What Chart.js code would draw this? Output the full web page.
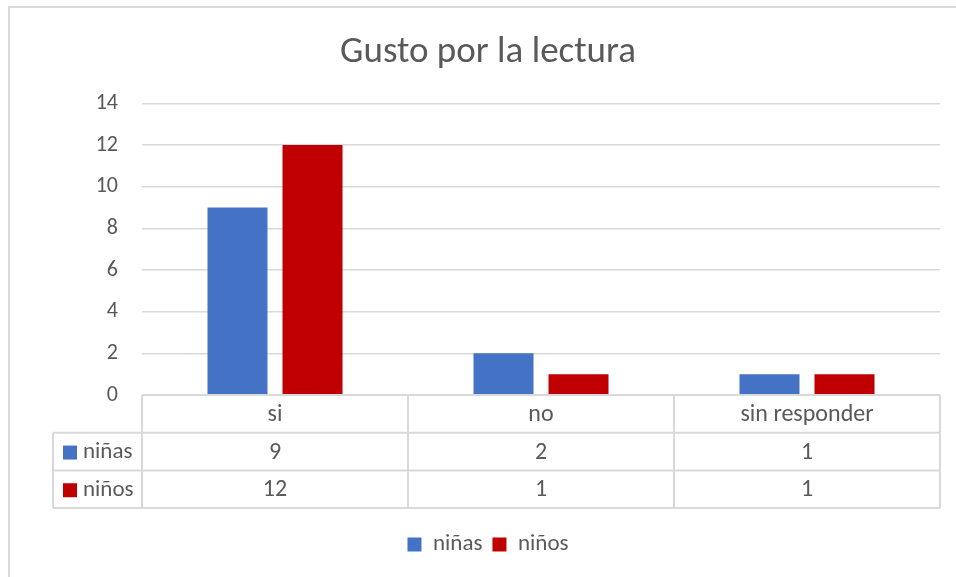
<!DOCTYPE html>
<html>
<head>
<meta charset="utf-8">
<script src="https://cdn.jsdelivr.net/npm/chart.js@4.4.1/dist/chart.umd.min.js"></script>
<style>
  body { margin: 0; background: #fff; }
  #frame { position: absolute; left: 8px; top: 6px; width: 960px; height: 580px; border: 2px solid #d9d9d9; }
  #wrap { position: absolute; left: 0; top: 0; width: 956px; height: 577px; }
</style>
</head>
<body>
<div id="frame"></div>
<div id="wrap"><canvas id="chart" width="956" height="577"></canvas></div>
<script>
const categories = ['si', 'no', 'sin responder'];
const ninas = [9, 2, 1];
const ninos = [12, 1, 1];
const seriesNames = ['niñas', 'niños'];
const yTicks = [0, 2, 4, 6, 8, 10, 12, 14];

const textColor = '#595959';
const lineColor = '#d9d9d9';
const fontFamily = 'Carlito, Lato, sans-serif';
const blue = '#4472C4';
const red = '#C00000';

// Data table under the plot, drawn from the x scale
const dataTable = {
    id: 'dataTable',
    afterDraw(chart) {
        const ctx = chart.ctx;
        const area = chart.chartArea;
        const x = chart.scales.x;
        const rowH = 37.7;
        const top = area.bottom;
        const labelLeft = 53;
        const catW = (area.right - area.left) / categories.length;
        const rows = [
            { name: seriesNames[0], color: blue, values: ninas },
            { name: seriesNames[1], color: red, values: ninos }
        ];

        ctx.save();
        ctx.strokeStyle = lineColor;
        ctx.lineWidth = 2;
        ctx.beginPath();
        // horizontal lines
        ctx.moveTo(area.left, top); ctx.lineTo(area.right, top);
        for (let r = 1; r <= 3; r++) {
            ctx.moveTo(labelLeft, top + rowH * r); ctx.lineTo(area.right, top + rowH * r);
        }
        // vertical lines
        for (let i = 0; i <= categories.length; i++) {
            const px = area.left + catW * i;
            ctx.moveTo(px, top); ctx.lineTo(px, top + rowH * 3);
        }
        ctx.moveTo(labelLeft, top + rowH); ctx.lineTo(labelLeft, top + rowH * 3);
        ctx.stroke();

        ctx.fillStyle = textColor;
        ctx.font = '24px ' + fontFamily;
        ctx.textBaseline = 'middle';
        ctx.textAlign = 'center';
        categories.forEach((c, i) => {
            ctx.fillText(c, x.getPixelForValue(i), top + rowH / 2 + 1);
        });
        rows.forEach((row, r) => {
            const cy = top + rowH * (r + 1.5) + 1;
            ctx.textAlign = 'center';
            ctx.fillStyle = textColor;
            ctx.font = '24px ' + fontFamily;
            row.values.forEach((v, i) => {
                ctx.fillText(String(v), x.getPixelForValue(i), cy);
            });
            ctx.fillStyle = row.color;
            ctx.fillRect(63, cy - 7, 14, 14);
            ctx.fillStyle = textColor;
            ctx.textAlign = 'left';
            ctx.font = '23px ' + fontFamily;
            ctx.fillText(row.name, 83, cy);
        });
        ctx.restore();
    }
};

new Chart(document.getElementById('chart'), {
    type: 'bar',
    data: {
        labels: categories,
        datasets: [
            { label: seriesNames[0], data: ninas, backgroundColor: blue },
            { label: seriesNames[1], data: ninos, backgroundColor: red }
        ]
    },
    options: {
        responsive: false,
        animation: false,
        datasets: { bar: { categoryPercentage: 0.564, barPercentage: 0.8 } },
        layout: { padding: { left: 36, right: 16, top: 0, bottom: 11 } },
        plugins: {
            title: {
                display: true,
                text: 'Gusto por la lectura',
                color: textColor,
                font: { family: fontFamily, size: 37, weight: 'normal' },
                padding: { top: 31, bottom: 28 }
            },
            legend: {
                position: 'bottom',
                labels: {
                    color: textColor,
                    font: { family: fontFamily, size: 23 },
                    boxWidth: 14,
                    boxHeight: 14,
                    padding: 10
                }
            },
            tooltip: { enabled: false }
        },
        scales: {
            x: {
                grid: { display: false },
                border: { display: false },
                ticks: { display: false },
                afterFit: (scale) => { scale.height = 128; }
            },
            y: {
                min: 0,
                max: 14,
                afterBuildTicks: (scale) => { scale.ticks = yTicks.map(v => ({ value: v })); },
                afterFit: (scale) => { scale.width = 106; },
                grid: { color: lineColor, lineWidth: 1.5, drawTicks: false },
                border: { display: false },
                ticks: {
                    color: textColor,
                    padding: 24,
                    font: { family: fontFamily, size: 22 }
                }
            }
        }
    },
    plugins: [dataTable]
});
</script>
</body>
</html>
